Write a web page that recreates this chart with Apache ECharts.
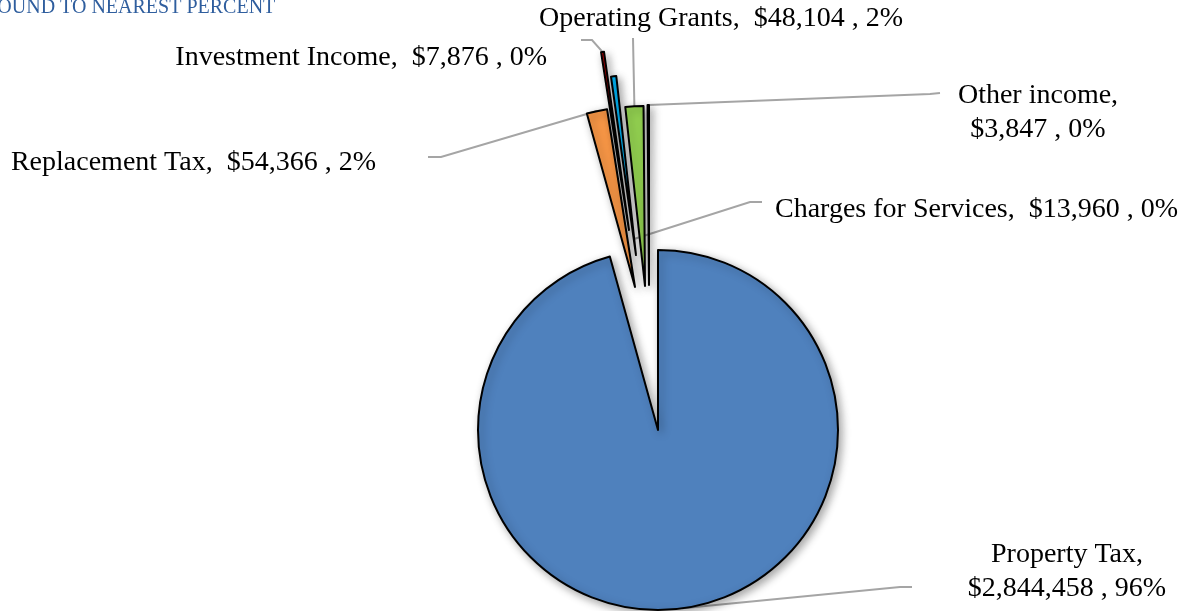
<!DOCTYPE html>
<html>
<head>
<meta charset="utf-8">
<script src="https://cdn.jsdelivr.net/npm/echarts@6/dist/echarts.min.js"></script>
<style>
  html, body { margin: 0; padding: 0; background: #ffffff; }
  #chart { width: 1191px; height: 611px; }
</style>
</head>
<body>
<div id="chart"></div>
<script>
// revenue sources, in the order Excel draws them (clockwise from 12 o'clock)
const categories = ['Property Tax', 'Replacement Tax', 'Investment Income', 'Charges for Services', 'Operating Grants', 'Other income'];
const amounts = [2844458, 54366, 7876, 13960, 48104, 3847];
const sliceColors = ['#4F81BD', '#F79646', '#C00000', '#00B0F0', '#92D050', '#FFFFFF'];
// label breaks the name onto its own line for these
const twoLineLabels = [true, false, false, false, false, true];

const PieCenter = [658, 430];
const PieRadius = 180;
// how far each slice is pulled out of the pie (dx, dy)
const explode = [[0, 0], [-23, -143], [-29, -200], [-22, -175], [-13, -144], [-9, -145]];
// label spot + leader line (elbow and end), reach = where the line touches the slice
const labelSpots = [
  { x: 1067, y: 572, align: 'center', elbow: [900, 587], end: [912, 587], reach: 1 },
  { x: 376, y: 163, align: 'right', elbow: [441, 157], end: [428, 157], reach: 1 },
  { x: 547, y: 58, align: 'right', elbow: [592, 40], end: [581, 40], reach: 1 },
  { x: 775, y: 210, align: 'left', elbow: [750, 202], end: [762, 202], reach: 0.09 },
  { x: 721, y: 19, align: 'center', elbow: null, end: [633, 38], reach: 1 },
  { x: 1038, y: 113, align: 'center', elbow: [930, 94], end: [940, 93], reach: 1 }
];

var total = amounts.reduce(function (a, b) { return a + b; }, 0);
var run = 0;
var midAngles = amounts.map(function (v) {
  var m = (run + v / 2) / total * 2 * Math.PI;
  run += v;
  return m;
});

function money(v) {
  return '$' + v.toLocaleString('en-US');
}

function buildSeries(i) {
  var m = midAngles[i];
  var c = [PieCenter[0] + explode[i][0], PieCenter[1] + explode[i][1]];
  var spot = labelSpots[i];
  return {
    type: 'pie',
    center: c,
    radius: PieRadius,
    startAngle: 90,
    clockwise: true,
    silent: true,
    animation: false,
    avoidLabelOverlap: false,
    data: categories.map(function (name, j) {
      var mine = j === i;
      return {
        name: name,
        value: amounts[j],
        itemStyle: mine ? {
          color: sliceColors[j],
          borderColor: '#000000',
          borderWidth: 2,
          shadowBlur: 8,
          shadowOffsetX: 3,
          shadowOffsetY: 3,
          shadowColor: 'rgba(0,0,0,0.35)'
        } : { color: 'rgba(0,0,0,0)', borderWidth: 0 },
        label: { show: mine },
        labelLine: { show: mine }
      };
    }),
    label: {
      fontFamily: 'Liberation Serif',
      fontSize: 28,
      lineHeight: 34,
      color: '#000000',
      formatter: function (p) {
        var sep = twoLineLabels[p.dataIndex] ? '\n' : '  ';
        return p.name + ',' + sep + money(p.value) + ' , ' + Math.round(p.value / total * 100) + '%';
      }
    },
    labelLine: {
      lineStyle: { color: '#A5A5A5', width: 2 }
    },
    labelLayout: function (params) {
      var r = PieRadius * spot.reach;
      var anchor = [c[0] + r * Math.sin(m), c[1] - r * Math.cos(m)];
      var pts = spot.elbow
        ? [anchor, spot.elbow, spot.end]
        : [anchor, [(anchor[0] + spot.end[0]) / 2, (anchor[1] + spot.end[1]) / 2], spot.end];
      return {
        x: spot.x,
        y: spot.y,
        align: spot.align,
        verticalAlign: 'middle',
        labelLinePoints: pts
      };
    }
  };
}

var chart = echarts.init(document.getElementById('chart'));
chart.setOption({
  backgroundColor: '#ffffff',
  animation: false,
  title: {
    text: 'ROUND TO NEAREST PERCENT',
    left: -16,
    top: -2,
    padding: 0,
    textStyle: {
      fontFamily: 'Liberation Serif',
      fontSize: 20,
      fontWeight: 'normal',
      color: '#2F5E9E'
    }
  },
  series: categories.map(function (name, i) { return buildSeries(i); })
});
</script>
</body>
</html>
